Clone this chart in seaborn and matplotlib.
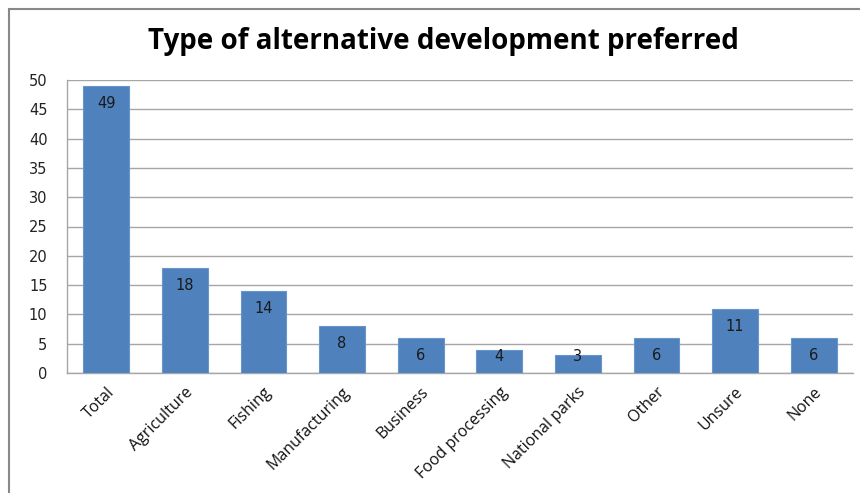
import matplotlib
matplotlib.use("Agg")
import matplotlib.pyplot as plt
import seaborn as sns
import pandas as pd
from matplotlib.patches import Rectangle

categories = ["Total", "Agriculture", "Fishing", "Manufacturing", "Business",
              "Food processing", "National parks", "Other", "Unsure", "None"]
values = [49, 18, 14, 8, 6, 4, 3, 6, 11, 6]
yticks = [0, 5, 10, 15, 20, 25, 30, 35, 40, 45, 50]
title = "Type of alternative development preferred"

sns.set_theme(style="white")
plt.rcParams["font.family"] = ["DejaVu Sans"]

df = pd.DataFrame({"category": categories, "value": values})

fig = plt.figure(figsize=(8.6, 4.93), dpi=100)
ax = fig.add_axes([67 / 860, 1 - 373 / 493, (853 - 67) / 860, (373 - 80) / 493])

sns.barplot(data=df, x="category", y="value", color="#4F81BD", width=0.585,
            saturation=1, edgecolor="#6A95CB", linewidth=0.8, ax=ax, zorder=3)

ax.set_ylim(0, 50)
ax.set_xlim(-0.5, len(categories) - 0.5)
ax.set_yticks(yticks)
ax.set_yticklabels([str(t) for t in yticks], fontsize=10.5, color="#222222")
ax.yaxis.grid(True, color="#A6A6A6", linewidth=1.0, zorder=0)
ax.set_axisbelow(True)
ax.set_xlabel("")
ax.set_ylabel("")
ax.tick_params(axis="y", length=0, pad=14)
ax.tick_params(axis="x", length=0, pad=8)
ax.set_xticks(range(len(categories)))
ax.set_xticklabels(categories, rotation=45, ha="right", rotation_mode="anchor",
                   fontsize=11.5, family="Open Sans", color="#111111")

for s in ["top", "right"]:
    ax.spines[s].set_visible(False)
for s in ["left", "bottom"]:
    ax.spines[s].set_color("#A6A6A6")
    ax.spines[s].set_linewidth(1.0)

for i, v in enumerate(values):
    ax.text(i, max(v - 3.0, 2.9), str(v), ha="center", va="center",
            fontsize=10.5, color="#1a1a1a", zorder=5)

fig.text(443 / 860, 1 - 42 / 493, title, ha="center", va="center",
         fontsize=20, fontweight="bold", family="Open Sans", color="black")

fig.patches.append(Rectangle((9 / 860, -0.1), 1.2, 1 - 9 / 493 + 0.1,
                             transform=fig.transFigure, fill=False,
                             edgecolor="#888888", linewidth=1.5))

fig.savefig("out.png", dpi=100, facecolor="white")
